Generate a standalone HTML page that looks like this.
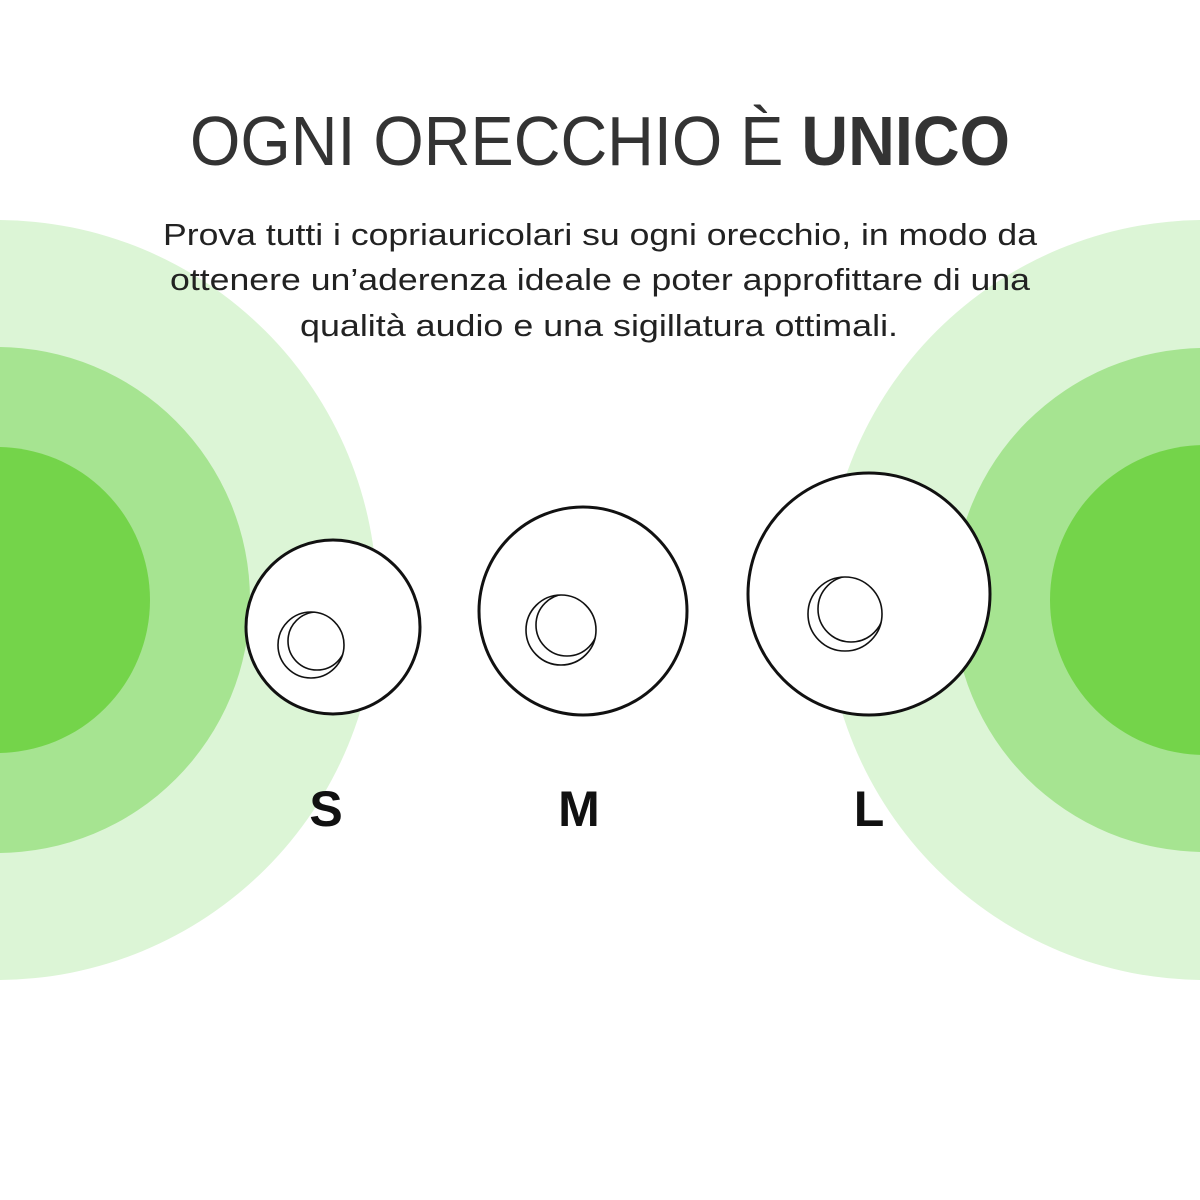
<!DOCTYPE html>
<html><head><meta charset="utf-8"><style>
html,body{margin:0;padding:0;background:#fff;}
svg{display:block;}
</style></head><body>
<svg width="1200" height="1200" viewBox="0 0 1200 1200" xmlns="http://www.w3.org/2000/svg">
<rect width="1200" height="1200" fill="#fff"/>
<circle cx="-3" cy="600" r="380" fill="#dcf5d6"/>
<circle cx="-3" cy="600" r="253" fill="#a6e491"/>
<circle cx="-3" cy="600" r="153" fill="#74d44a"/>
<circle cx="1205" cy="600" r="380" fill="#dcf5d6"/>
<circle cx="1205" cy="600" r="252" fill="#a6e491"/>
<circle cx="1205" cy="600" r="155" fill="#74d44a"/>
<defs>
<clipPath id="cs"><circle cx="311" cy="645" r="33"/></clipPath>
<clipPath id="cm"><circle cx="561" cy="630" r="35"/></clipPath>
<clipPath id="cl"><circle cx="845" cy="614" r="37"/></clipPath>
</defs>
<g fill="#fff" stroke="#111" stroke-width="3">
<circle cx="333" cy="627" r="87"/>
<circle cx="583" cy="611" r="104"/>
<circle cx="869" cy="594" r="121"/>
</g>
<g fill="none" stroke="#111" stroke-width="1.6">
<circle cx="311" cy="645" r="33"/>
<circle cx="317" cy="641" r="29" clip-path="url(#cs)"/>
<circle cx="561" cy="630" r="35"/>
<circle cx="567" cy="625" r="31" clip-path="url(#cm)"/>
<circle cx="845" cy="614" r="37"/>
<circle cx="851" cy="609" r="33" clip-path="url(#cl)"/>
</g>
<text x="190" y="165" font-family="Liberation Sans, sans-serif" font-size="70" fill="#333" textLength="820" lengthAdjust="spacingAndGlyphs">OGNI ORECCHIO È <tspan font-weight="bold">UNICO</tspan></text>
<g font-family="Liberation Sans, sans-serif" font-size="31" fill="#222">
<text x="163" y="245" textLength="874" lengthAdjust="spacingAndGlyphs">Prova tutti i copriauricolari su ogni orecchio, in modo da</text>
<text x="170" y="290" textLength="860" lengthAdjust="spacingAndGlyphs">ottenere un’aderenza ideale e poter approfittare di una</text>
<text x="300" y="336" textLength="598" lengthAdjust="spacingAndGlyphs">qualità audio e una sigillatura ottimali.</text>
</g>
<g font-family="Liberation Sans, sans-serif" font-size="50" font-weight="bold" fill="#111" text-anchor="middle">
<text x="326" y="826">S</text>
<text x="579" y="826">M</text>
<text x="869" y="826">L</text>
</g>
</svg>
</body></html>
